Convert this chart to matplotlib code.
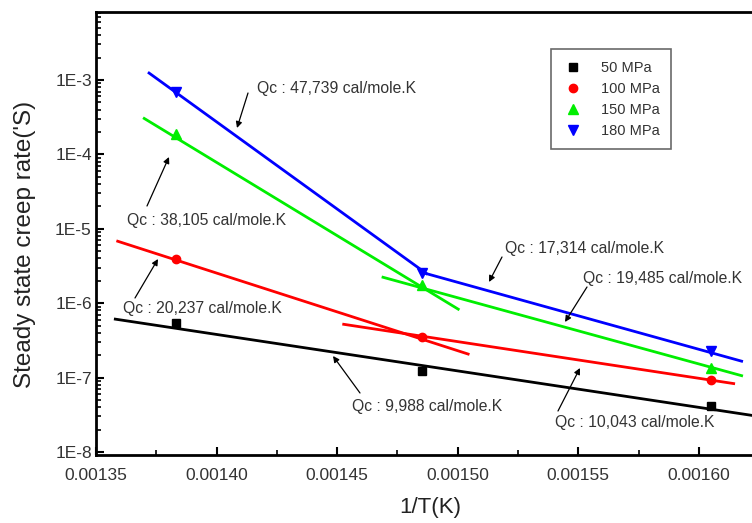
import math
import matplotlib
matplotlib.use("Agg")
import matplotlib.pyplot as plt
from matplotlib.patches import FancyArrowPatch
from matplotlib.ticker import FuncFormatter, FixedLocator, NullFormatter

plt.rcParams['font.family'] = ['Liberation Sans', 'DejaVu Sans']

# ---- data ----
inv_T = [0.001383, 0.001485, 0.001605]
rate_50 = [5.4e-7, 1.24e-7, 4.1e-8]
rate_100 = [3.9e-6, 3.5e-7, 9.4e-8]
rate_150 = [1.86e-4, 1.75e-6, 1.36e-7]
rate_180 = [6.9e-4, 2.53e-6, 2.27e-7]
series_labels = ['50 MPa', '100 MPa', '150 MPa', '180 MPa']

# fitted line segments (end points)
fit_50_x = [0.001358, 0.001622]
fit_50_y = [6.1e-7, 3.1e-8]
fit_100a_x = [0.001359, 0.0015043]
fit_100a_y = [6.8e-6, 2.07e-7]
fit_100b_x = [0.0014527, 0.0016144]
fit_100b_y = [5.2e-7, 8.3e-8]
fit_150a_x = [0.00137, 0.0015002]
fit_150a_y = [3.04e-4, 8.3e-7]
fit_150b_x = [0.001469, 0.0016177]
fit_150b_y = [2.23e-6, 1.06e-7]
fit_180a_x = [0.001372, 0.001487]
fit_180a_y = [1.24e-3, 2.5e-6]
fit_180b_x = [0.001485, 0.0016177]
fit_180b_y = [2.6e-6, 1.66e-7]

x_ticks = [0.00135, 0.00140, 0.00145, 0.00150, 0.00155, 0.00160]
x_minor_ticks = [0.001375, 0.001425, 0.001475, 0.001525, 0.001575]
y_ticks = [1e-8, 1e-7, 1e-6, 1e-5, 1e-4, 1e-3]

qc_labels = ['Qc : 47,739 cal/mole.K', 'Qc : 38,105 cal/mole.K', 'Qc : 17,314 cal/mole.K',
             'Qc : 19,485 cal/mole.K', 'Qc : 20,237 cal/mole.K', 'Qc : 9,988 cal/mole.K',
             'Qc : 10,043 cal/mole.K']

W, H = 752, 523
fig = plt.figure(figsize=(W / 100, H / 100), dpi=100)
ax = fig.add_axes([96 / W, 1 - 455 / H, 1 - 96 / W, (455 - 12) / H])

ax.set_yscale('log')
ax.set_xlim(0.00135, 0.001622)
ax.set_ylim(9.1e-9, 8.2e-3)

GREEN = '#00ee00'
lw = 2.0
ax.plot(fit_50_x, fit_50_y, color='black', lw=lw)
ax.plot(fit_100a_x, fit_100a_y, color='red', lw=lw)
ax.plot(fit_100b_x, fit_100b_y, color='red', lw=lw)
ax.plot(fit_150a_x, fit_150a_y, color=GREEN, lw=lw)
ax.plot(fit_150b_x, fit_150b_y, color=GREEN, lw=lw)
ax.plot(fit_180a_x, fit_180a_y, color='blue', lw=lw)
ax.plot(fit_180b_x, fit_180b_y, color='blue', lw=lw)

ms = 6
ax.plot(inv_T, rate_50, 's', color='black', ms=ms, ls='none', label=series_labels[0])
ax.plot(inv_T, rate_100, 'o', color='red', ms=ms, ls='none', label=series_labels[1])
ax.plot(inv_T, rate_150, '^', color=GREEN, ms=ms + 1, ls='none', label=series_labels[2])
ax.plot(inv_T, rate_180, 'v', color='blue', ms=ms + 1, ls='none', label=series_labels[3])

# axes styling
for s in ['left', 'bottom', 'top']:
    ax.spines[s].set_linewidth(2.0)
ax.spines['right'].set_visible(False)

ax.xaxis.set_major_locator(FixedLocator(x_ticks))
ax.xaxis.set_minor_locator(FixedLocator(x_minor_ticks))
ax.xaxis.set_major_formatter(FuncFormatter(lambda v, p: f"{v:.5f}"))
y_minor = [m * t for t in [1e-9] + y_ticks for m in range(2, 10)
           if 9.1e-9 < m * t < 8.2e-3]
ax.yaxis.set_major_locator(FixedLocator(y_ticks))
ax.yaxis.set_minor_locator(FixedLocator(y_minor))
ax.yaxis.set_major_formatter(FuncFormatter(lambda v, p: "1E%d" % round(math.log10(v))))
ax.yaxis.set_minor_formatter(NullFormatter())
ax.tick_params(which='major', direction='in', length=6, width=1.5, labelsize=12.5,
               labelcolor='#333333')
ax.tick_params(axis='x', which='major', pad=9)
ax.tick_params(axis='y', which='major', pad=3)
ax.tick_params(which='minor', direction='in', length=3.5, width=1.2)
ax.tick_params(top=False, right=False, which='both')

ax.set_xlabel('1/T(K)', fontsize=16, color='#222222')
ax.set_ylabel("Steady state creep rate('S)", fontsize=17.5, color='#222222')
ax.xaxis.set_label_coords((430 - 96) / (W - 96), (455 - 497) / (455 - 12))
ax.yaxis.set_label_coords((36 - 96) / (W - 96), (455 - 244) / (455 - 12))

leg = ax.legend(loc='upper left', bbox_to_anchor=((551 - 96) / (W - 96), 1 - (49 - 12) / (455 - 12)),
                fontsize=10.5, frameon=True, fancybox=False, edgecolor='#444444',
                handletextpad=1.2, borderpad=0.8, labelspacing=0.48, handlelength=1.4,
                borderaxespad=0)
leg.get_frame().set_linewidth(1.2)
for t in leg.get_texts():
    t.set_color('#333333')


def fp(x, y):
    return (x / W, 1 - y / H)


tkw = dict(fontsize=11.3, color='#333333', va='center', ha='left')


def arrow(tail, head):
    fig.patches.append(FancyArrowPatch(fp(*tail), fp(*head), transform=fig.transFigure,
                                       arrowstyle='-|>', color='black', lw=0.9,
                                       mutation_scale=9, shrinkA=0, shrinkB=0))


# text positions (left, center-y) and arrows (tail -> head) in image pixels
fig.text(*fp(257, 88), qc_labels[0], **tkw)
arrow((248, 93), (237, 128))
fig.text(*fp(127, 221), qc_labels[1], **tkw)
arrow((147, 206), (169, 157))
fig.text(*fp(505, 248), qc_labels[2], **tkw)
arrow((502, 257), (489, 282))
fig.text(*fp(583, 279), qc_labels[3], **tkw)
arrow((587, 287), (565, 322))
fig.text(*fp(123, 308), qc_labels[4], **tkw)
arrow((135, 298), (158, 259))
fig.text(*fp(352, 407), qc_labels[5], **tkw)
arrow((360, 393), (333, 356))
fig.text(*fp(555, 422), qc_labels[6], **tkw)
arrow((558, 411), (580, 368))

fig.savefig('out.png', dpi=100)
